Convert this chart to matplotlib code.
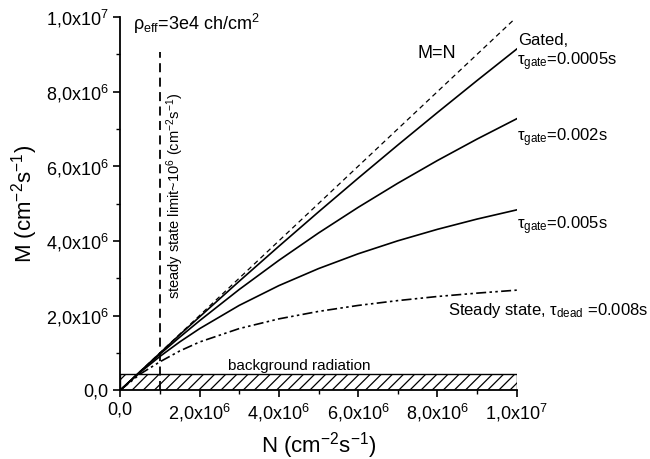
import matplotlib
matplotlib.use('Agg')
import matplotlib.pyplot as plt
from matplotlib.patches import Rectangle

plt.rcParams['font.family'] = ['Liberation Sans', 'DejaVu Sans']
plt.rcParams['mathtext.fontset'] = 'custom'
plt.rcParams['mathtext.rm'] = 'Liberation Sans'
plt.rcParams['mathtext.it'] = 'Liberation Sans'
plt.rcParams['hatch.linewidth'] = 0.9

# values (units of 1e6 cm^-2 s^-1)
n_vals = [0, 0.5, 1, 1.5, 2, 3, 4, 5, 6, 7, 8, 9, 10]
gate_0005 = [0, 0.498, 0.991, 1.486, 1.963, 2.918, 3.855, 4.776, 5.680, 6.568, 7.440, 8.298, 9.141]
gate_002 = [0, 0.491, 0.964, 1.420, 1.860, 2.697, 3.478, 4.211, 4.898, 5.545, 6.154, 6.729, 7.273]
gate_005 = [0, 0.475, 0.903, 1.293, 1.647, 2.271, 2.801, 3.257, 3.654, 4.002, 4.310, 4.585, 4.831]
steady_008 = [0, 0.43, 0.76, 1.05, 1.29, 1.65, 1.91, 2.11, 2.27, 2.40, 2.51, 2.60, 2.68]
diag = [0, 9.9]
limit_x = 1.0
limit_top = 9.06
background = 0.43

tick_vals = [0, 2, 4, 6, 8, 10]
tick_labels = ['0,0', r'2,0x10$^6$', r'4,0x10$^6$', r'6,0x10$^6$', r'8,0x10$^6$', r'1,0x10$^7$']

def scale(v):
    return [x * 1e6 for x in v]

fig = plt.figure(figsize=(6.5, 4.59), dpi=100)
ax = fig.add_axes([0.185, 0.150, 0.61, 0.813])

ax.add_patch(Rectangle((0, 0), 1e7, background * 1e6, facecolor='white',
                       edgecolor='black', hatch='///', linewidth=1.0, zorder=1))

ax.plot(scale(diag), scale(diag), color='black', linestyle=(0, (4, 3)), linewidth=0.9)
ax.plot(scale(n_vals), scale(gate_0005), color='black', linewidth=1.2)
ax.plot(scale(n_vals), scale(gate_002), color='black', linewidth=1.2)
ax.plot(scale(n_vals), scale(gate_005), color='black', linewidth=1.2)
ax.plot(scale(n_vals), scale(steady_008), color='black', linewidth=1.2,
        linestyle=(0, (6, 2, 1.5, 2, 1.5, 2)))
ax.plot([limit_x * 1e6, limit_x * 1e6], [0, limit_top * 1e6], color='black',
        linestyle=(0, (5, 3)), linewidth=1.3)

ax.set_xlim(0, 1e7)
ax.set_ylim(0, 1e7)
ax.set_xticks(scale(tick_vals))
ax.set_xticklabels(tick_labels)
ax.set_yticks(scale(tick_vals))
ax.set_yticklabels(tick_labels)
ax.set_xticks(scale([1, 3, 5, 7, 9]), minor=True)
ax.set_yticks(scale([1, 3, 5, 7, 9]), minor=True)
ax.tick_params(direction='out', labelsize=13, width=1.2, length=5)
ax.tick_params(which='minor', direction='out', width=1.0, length=3)
for s in ['top', 'right']:
    ax.spines[s].set_visible(False)
for s in ['left', 'bottom']:
    ax.spines[s].set_linewidth(1.3)

ax.set_xlabel(r'N (cm$^{-2}$s$^{-1}$)', fontsize=16)
ax.set_ylabel(r'M (cm$^{-2}$s$^{-1}$)', fontsize=16)

ax.text(0.33e6, 9.65e6, r'ρ$_{\mathrm{eff}}$=3e4 ch/cm$^2$', fontsize=13, va='baseline')
ax.text(1.39e6, 5.2e6, r'steady state limit~10$^6$ (cm$^{-2}$s$^{-1}$)', rotation=90,
        fontsize=10.5, ha='center', va='center')
ax.text(7.5e6, 9.03e6, 'M=N', fontsize=13, va='center')
ax.text(10.03e6, 9.38e6, 'Gated,', fontsize=12, va='center', clip_on=False)
ax.text(10.0e6, 8.79e6, r'τ$_{\mathrm{gate}}$=0.0005s', fontsize=12, va='center', clip_on=False)
ax.text(10.0e6, 6.76e6, r'τ$_{\mathrm{gate}}$=0.002s', fontsize=12, va='center', clip_on=False)
ax.text(10.0e6, 4.42e6, r'τ$_{\mathrm{gate}}$=0.005s', fontsize=12, va='center', clip_on=False)
ax.text(8.26e6, 2.14e6, r'Steady state, τ$_{\mathrm{dead}}$ =0.008s', fontsize=12,
        va='center', clip_on=False)
ax.text(2.72e6, 0.64e6, 'background radiation', fontsize=11, va='center')

fig.savefig('out.png', dpi=100)
